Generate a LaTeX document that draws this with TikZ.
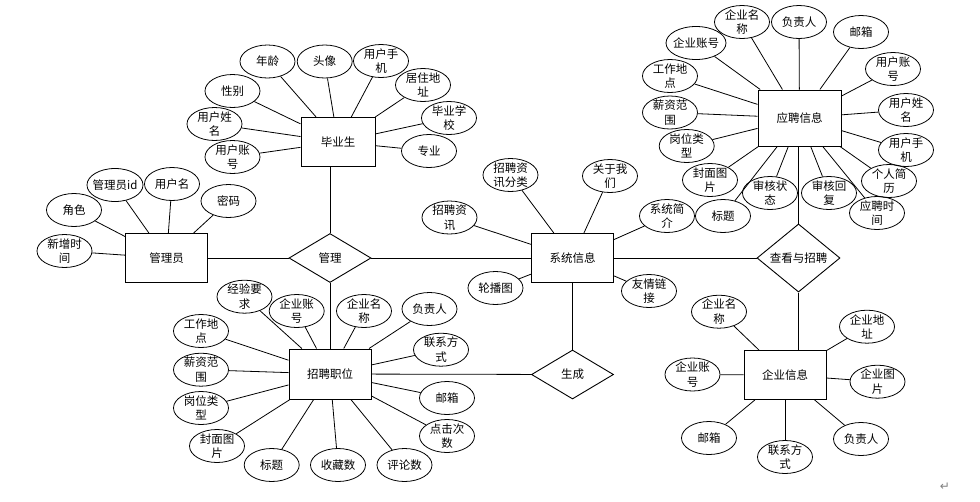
\documentclass[tikz,border=0pt]{standalone}
\usepackage{fontspec}
\newfontfamily\cjk{Noto Sans CJK SC}
\newfontfamily\symfont{DejaVu Sans}
\usetikzlibrary{shapes.geometric}
\tikzset{
  attr/.style={ellipse, draw, line width=0.8pt, minimum width=55pt, minimum height=33pt, inner sep=-8pt, align=center, font=\cjk\fontsize{11.5}{14.5}\selectfont},
  ent/.style={rectangle, draw, line width=1pt, minimum width=82pt, minimum height=49pt, inner sep=0pt, font=\cjk\fontsize{11.5}{14.5}\selectfont},
  rel/.style={diamond, draw, line width=0.9pt, minimum width=82pt, minimum height=49pt, inner sep=0pt, font=\cjk\fontsize{11.5}{14.5}\selectfont},
  lnk/.style={line width=0.8pt}
}
\begin{document}
\begin{tikzpicture}[x=1pt,y=-1pt]
\useasboundingbox (0,0) rectangle (980,501);
% entities
\node[ent, minimum width=74pt] (g) at (338,142) {毕业生};
\node[ent] (a) at (166.5,258) {管理员};
\node[ent] (s) at (572.5,258) {系统信息};
\node[ent, minimum width=83pt, minimum height=56pt] (y) at (799.5,118) {应聘信息};
\node[ent, minimum height=50pt] (j) at (330,374) {招聘职位};
\node[ent] (e) at (785,375) {企业信息};
% relations
\node[rel] (m) at (330,258) {管理};
\node[rel, minimum width=83pt, minimum height=62pt] (v) at (798.5,258) {查看与招聘};
\node[rel] (gen) at (572.5,374.5) {生成};
% graduate attributes
\node[attr] (g1) at (267.5,61.5) {年龄};
\node[attr] (g2) at (324.7,61.5) {头像};
\node[attr] (g3) at (381,61) {用户手\\机};
\node[attr] (g4) at (423,85) {居住地\\址};
\node[attr] (g5) at (449,118) {毕业学\\校};
\node[attr] (g6) at (429,151) {专业};
\node[attr] (g7) at (232.5,91) {性别};
\node[attr] (g8) at (214.5,124) {用户姓\\名};
\node[attr] (g9) at (232.5,157) {用户账\\号};
\foreach \i in {1,...,9} \draw[lnk] (g\i) -- (g);
% admin attributes
\node[attr, minimum width=56pt] (a1) at (115,185) {管理员id};
\node[attr] (a2) at (172,184) {用户名};
\node[attr] (a3) at (228.5,201) {密码};
\node[attr] (a4) at (74,210) {角色};
\node[attr] (a5) at (64.5,251) {新增时\\间};
\foreach \i in {1,...,5} \draw[lnk] (a\i) -- (a);
% system attributes
\node[attr] (s1) at (510.5,175) {招聘资\\讯分类};
\node[attr] (s2) at (610,176) {关于我\\们};
\node[attr] (s3) at (449.5,217.5) {招聘资\\讯};
\node[attr] (s4) at (667,216) {系统简\\介};
\node[attr] (s5) at (495.5,288) {轮播图};
\node[attr] (s6) at (649,291) {友情链\\接};
\foreach \i in {1,...,6} \draw[lnk] (s\i) -- (s);
% application attributes
\node[attr] (y1) at (742,22) {企业名\\称};
\node[attr] (y2) at (799,22) {负责人};
\node[attr] (y3) at (861,32) {邮箱};
\node[attr, minimum width=60pt] (y4) at (696,43) {企业账号};
\node[attr] (y5) at (670,76) {工作地\\点};
\node[attr] (y6) at (893,69) {用户账\\号};
\node[attr] (y7) at (670,112.5) {薪资范\\围};
\node[attr] (y8) at (906,110) {用户姓\\名};
\node[attr] (y9) at (686.7,146) {岗位类\\型};
\node[attr] (y10) at (906,150) {用户手\\机};
\node[attr] (y11) at (710,180) {封面图\\片};
\node[attr] (y12) at (770,193) {审核状\\态};
\node[attr] (y13) at (829,193) {审核回\\复};
\node[attr] (y14) at (889,181) {个人简\\历};
\node[attr] (y15) at (723,216) {标题};
\node[attr] (y16) at (877,213) {应聘时\\间};
\foreach \i in {1,...,16} \draw[lnk] (y\i) -- (y);
% job attributes
\node[attr] (j1) at (244.5,296.7) {经验要\\求};
\node[attr] (j2) at (296.7,311) {企业账\\号};
\node[attr] (j3) at (364,311) {企业名\\称};
\node[attr] (j4) at (429.5,309) {负责人};
\node[attr] (j5) at (201,331) {工作地\\点};
\node[attr] (j6) at (441,349.7) {联系方\\式};
\node[attr] (j7) at (201,369.7) {薪资范\\围};
\node[attr] (j8) at (201,408) {岗位类\\型};
\node[attr] (j9) at (447,398) {邮箱};
\node[attr] (j10) at (447,436) {点击次\\数};
\node[attr] (j11) at (217,446) {封面图\\片};
\node[attr] (j12) at (271.7,465) {标题};
\node[attr] (j13) at (338,465) {收藏数};
\node[attr] (j14) at (404.5,465) {评论数};
\foreach \i in {1,...,14} \draw[lnk] (j\i) -- (j);
% company attributes
\node[attr] (e1) at (719,311.7) {企业名\\称};
\node[attr] (e2) at (867,326.7) {企业地\\址};
\node[attr] (e3) at (692.5,374.5) {企业账\\号};
\node[attr] (e4) at (877.5,381.7) {企业图\\片};
\node[attr] (e5) at (709,438) {邮箱};
\node[attr] (e6) at (785,457) {联系方\\式};
\node[attr] (e7) at (861,439) {负责人};
\foreach \i in {1,...,7} \draw[lnk] (e\i) -- (e);
% relationships
\draw[lnk] (a) -- (m);
\draw[lnk] (m) -- (s);
\draw[lnk] (m.north) -- (m.north |- g.south);
\draw[lnk] (m.south) -- (j.north);
\draw[lnk] (s) -- (v);
\draw[lnk] (v.north) -- (v.north |- y.south);
\draw[lnk, line width=1.2pt] (v.south) -- (v.south |- e.north);
\draw[lnk] (gen.north) -- (gen.north |- s.south);
\draw[lnk] (j) -- (gen);
% paragraph mark
\node[font=\symfont\fontsize{12}{12}\selectfont, text=gray] (pm) at (945,487) {↵};
\end{tikzpicture}
\end{document}
